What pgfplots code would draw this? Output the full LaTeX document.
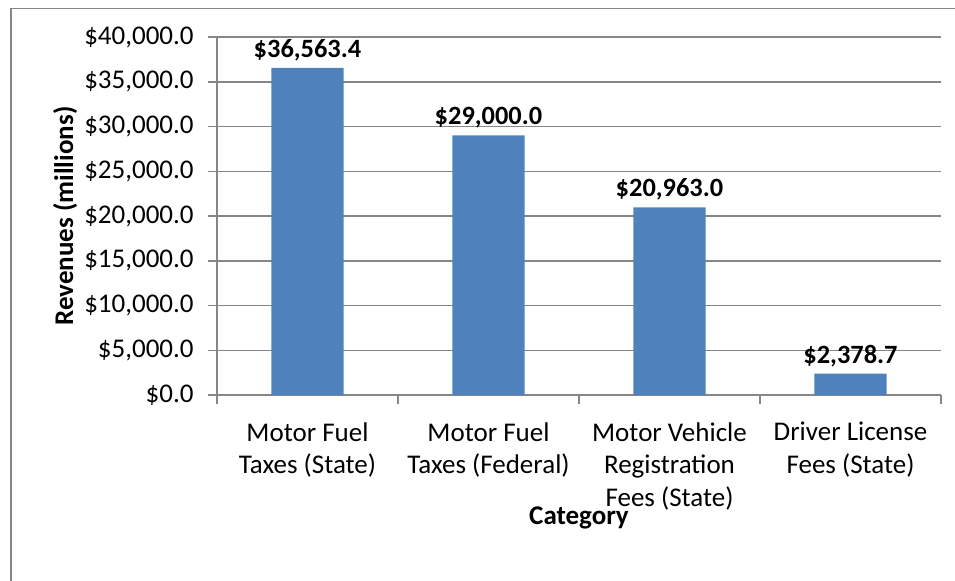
\documentclass[border=0pt]{standalone}
\usepackage{pgfplots}
\pgfplotsset{compat=1.18}
\usepackage{fontspec}
\setmainfont{Carlito}
\definecolor{barblue}{RGB}{79,129,189}
\definecolor{gridgray}{RGB}{134,134,134}
\begin{document}
\fontsize{13.5}{16.3}\selectfont
\begin{tikzpicture}
\begin{axis}[
  at={(108.5pt,92.5pt)}, anchor=south west,
  scale only axis, width=362pt, height=179pt,
  xmin=-0.5, xmax=3.5, ymin=0, ymax=40000,
  axis x line*=bottom, axis y line*=left,
  axis line style={gridgray, line width=0.75pt},
  tick style={gridgray, line width=0.75pt},
  tick align=outside, major tick length=4.5pt,
  ymajorgrids, major grid style={gridgray, line width=0.75pt},
  ytick={0,5000,...,40000}, scaled y ticks=false,
  yticklabels={{\$0.0},{\$5,000.0},{\$10,000.0},{\$15,000.0},{\$20,000.0},{\$25,000.0},{\$30,000.0},{\$35,000.0},{\$40,000.0}},
  yticklabel style={xshift=-2.5pt},
  xtick={-0.5,0.5,1.5,2.5,3.5}, xticklabels={},
  extra x ticks={0,1,2,3},
  extra x tick labels={{Motor Fuel\\Taxes (State)},{Motor Fuel\\Taxes (Federal)},{Motor Vehicle\\Registration\\Fees (State)},{Driver License\\Fees (State)}},
  extra x tick style={major tick length=0pt, xticklabel style={align=center, yshift=-9pt}},
  ticklabel style={font=\fontsize{13.5}{16.3}\selectfont, text=black},
  every axis y label/.style={at={(axis description cs:-0.2099,0.5)}, rotate=90, anchor=center},
  every axis x label/.style={at={(axis description cs:0.5,-0.3436)}, anchor=center},
  label style={font=\fontsize{13.5}{16.3}\selectfont\bfseries},
  ylabel={Revenues (millions)},
  xlabel={Category},
  /pgf/number format/assume math mode=true,
  ybar, bar width=0.4,
  nodes near coords={\$\pgfmathprintnumber[fixed,fixed zerofill,precision=1,1000 sep={,}]{\pgfplotspointmeta}},
  nodes near coords style={font=\fontsize{13.2}{16.3}\selectfont\bfseries, text=black, yshift=-1.2pt},
]
\addplot[fill=barblue, draw=none] coordinates {(0,36563.4) (1,29000.0) (2,20963.0) (3,2378.7)};
\end{axis}
\draw[gridgray, line width=0.75pt] (5.5pt,-20pt) -- (5.5pt,285.8pt) -- (500pt,285.8pt);
\pgfresetboundingbox
\useasboundingbox (0,0) rectangle (477.5pt,290pt);
\end{tikzpicture}
\end{document}
